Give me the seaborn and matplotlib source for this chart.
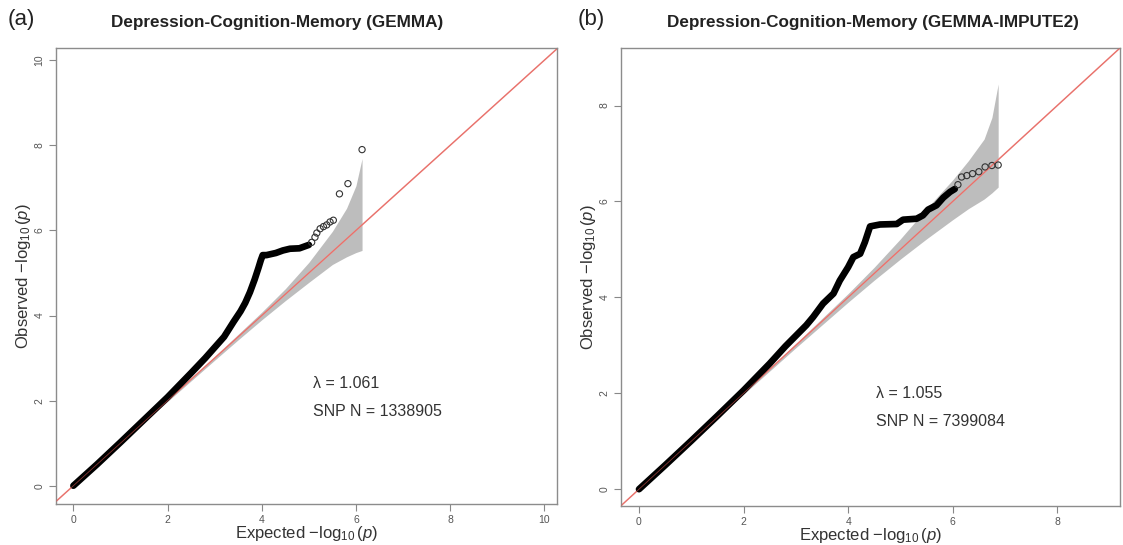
import numpy as np
import pandas as pd
import matplotlib
matplotlib.use("Agg")
import matplotlib.pyplot as plt
import seaborn as sns

# values
# (a) GEMMA - thick part of the curve
exp_a = [0, 0.5, 1.0, 1.5, 2.0, 2.5, 2.8, 3.0, 3.2, 3.4, 3.55, 3.65, 3.75, 3.85, 3.93, 3.98, 4.02,
         4.1, 4.3, 4.45, 4.6, 4.8, 5.0]
obs_a = [0, 0.5, 1.02, 1.55, 2.08, 2.65, 3.0, 3.25, 3.5, 3.85, 4.1, 4.3, 4.55, 4.85, 5.12, 5.3, 5.42,
         5.42, 5.47, 5.53, 5.57, 5.58, 5.66]
# (a) top hits drawn as open circles
tail_exp_a = [5.06, 5.13, 5.17, 5.24, 5.31, 5.38, 5.45, 5.52, 5.65, 5.83, 6.13]
tail_obs_a = [5.72, 5.84, 5.94, 6.04, 6.09, 6.13, 6.2, 6.24, 6.86, 7.10, 7.9]
# (a) confidence band
band_x_a = [0, 1, 2, 3, 3.5, 4, 4.5, 5, 5.5, 5.8, 6.0, 6.13]
band_hi_a = [0, 1.01, 2.02, 3.04, 3.56, 4.08, 4.63, 5.25, 5.98, 6.52, 7.05, 7.69]
band_lo_a = [0, 0.99, 1.98, 2.95, 3.43, 3.9, 4.35, 4.78, 5.2, 5.38, 5.48, 5.53]

# (b) GEMMA-IMPUTE2
exp_b = [0, 0.5, 1.0, 1.5, 2.0, 2.5, 2.8, 3.0, 3.2, 3.33, 3.52, 3.72, 3.84, 4.0, 4.1, 4.23, 4.32,
         4.42, 4.61, 4.93, 5.05, 5.31, 5.43, 5.53, 5.69, 5.82, 5.95, 6.04]
obs_b = [0, 0.5, 1.01, 1.53, 2.06, 2.62, 2.98, 3.2, 3.42, 3.59, 3.87, 4.08, 4.35, 4.63, 4.84, 4.91, 5.15,
         5.48, 5.52, 5.53, 5.62, 5.64, 5.71, 5.83, 5.92, 6.08, 6.2, 6.26]
tail_exp_b = [6.1, 6.17, 6.27, 6.38, 6.5, 6.62, 6.75, 6.87]
tail_obs_b = [6.35, 6.51, 6.54, 6.58, 6.62, 6.72, 6.75, 6.76]
band_x_b = [0, 1, 2, 3, 4, 4.5, 5, 5.5, 6.0, 6.3, 6.6, 6.75, 6.87]
band_hi_b = [0, 1.01, 2.02, 3.04, 4.08, 4.63, 5.22, 5.85, 6.45, 6.85, 7.3, 7.75, 8.45]
band_lo_b = [0, 0.99, 1.98, 2.95, 3.9, 4.36, 4.8, 5.22, 5.62, 5.85, 6.05, 6.18, 6.3]

titles = ["Depression-Cognition-Memory (GEMMA)", "Depression-Cognition-Memory (GEMMA-IMPUTE2)"]
panel_tags = ["(a)", "(b)"]
lambdas = ["λ = 1.061", "λ = 1.055"]
snp_n = ["SNP N = 1338905", "SNP N = 7399084"]
ticks_a = [0, 2, 4, 6, 8, 10]
ticks_b = [0, 2, 4, 6, 8]

sns.set_style("white")
plt.rcParams['font.family'] = ['Liberation Sans', 'DejaVu Sans']
plt.rcParams['mathtext.fontset'] = 'custom'
plt.rcParams['mathtext.rm'] = 'Liberation Sans'
plt.rcParams['mathtext.it'] = 'Liberation Sans:italic'

W, H = 1123, 545
fig = plt.figure(figsize=(W / 100, H / 100), dpi=100)

def px_axes(l, t, r, b):
    return fig.add_axes([l / W, 1 - b / H, (r - l) / W, (b - t) / H])

ax_a = px_axes(55.5, 47.5, 557, 504)
ax_b = px_axes(620.7, 48, 1120, 506)

panels = [
    (ax_a, exp_a, obs_a, tail_exp_a, tail_obs_a, band_x_a, band_lo_a, band_hi_a,
     (-0.38, 10.27), (-0.43, 10.3), ticks_a, (313, 383)),
    (ax_b, exp_b, obs_b, tail_exp_b, tail_obs_b, band_x_b, band_lo_b, band_hi_b,
     (-0.35, 9.2), (-0.35, 9.2), ticks_b, (876, 394)),
]

for i, (ax, ex, ob, tex, tob, bx, blo, bhi, xl, yl, tks, txt_pos) in enumerate(panels):
    ax.fill_between(bx, blo, bhi, color="#bdbdbd", linewidth=0, zorder=1)
    ax.axline((0, 0), slope=1, color="#f08a84", linewidth=1.1, zorder=2)
    line_df = pd.DataFrame({"expected": ex, "observed": ob})
    sns.lineplot(data=line_df, x="expected", y="observed", ax=ax, color="black",
                 linewidth=4.8, sort=False, zorder=3, solid_capstyle="round",
                 solid_joinstyle="round")
    tail_df = pd.DataFrame({"expected": tex, "observed": tob})
    sns.scatterplot(data=tail_df, x="expected", y="observed", ax=ax, s=20,
                    facecolor="none", edgecolor="#333333", linewidth=0.8, zorder=4)
    # thin red diagonal showing through the black curve
    ax.axline((0, 0), slope=1, color="#e05a55", linewidth=0.6, zorder=5, alpha=0.6)

    ax.set_xlim(*xl)
    ax.set_ylim(*yl)
    ax.set_xticks(tks)
    ax.set_yticks(tks)
    ax.tick_params(axis="both", direction="out", length=5, width=0.8, color="#888888",
                   labelsize=7.5, labelcolor="#555555", left=True, bottom=True, pad=3)
    for lab in ax.get_yticklabels():
        lab.set_rotation(90)
        lab.set_va("center")
    for s in ax.spines.values():
        s.set_color("#8c8c8c")
        s.set_linewidth(1.0)
    ax.set_xlabel(r"Expected $-\log_{10}(p)$", fontsize=12, color="#333333", labelpad=-1)
    ax.set_ylabel(r"Observed $-\log_{10}(p)$", fontsize=12, color="#333333", labelpad=1)

    tx, ty = txt_pos
    fig.text(tx / W, 1 - ty / H, lambdas[i], fontsize=11.5, color="#333333", va="center")
    fig.text(tx / W, 1 - (ty + 28) / H, snp_n[i], fontsize=11.5, color="#333333", va="center")

fig.text(277 / W, 1 - 22 / H, titles[0], fontsize=12.3, fontweight="bold", color="#222222",
         ha="center", va="center")
fig.text(873 / W, 1 - 22 / H, titles[1], fontsize=12.3, fontweight="bold", color="#222222",
         ha="center", va="center")
fig.text(8 / W, 1 - 20 / H, panel_tags[0], fontsize=16, color="#222222", va="center")
fig.text(578 / W, 1 - 20 / H, panel_tags[1], fontsize=16, color="#222222", va="center")

fig.savefig("out.png", dpi=100, facecolor="white")
